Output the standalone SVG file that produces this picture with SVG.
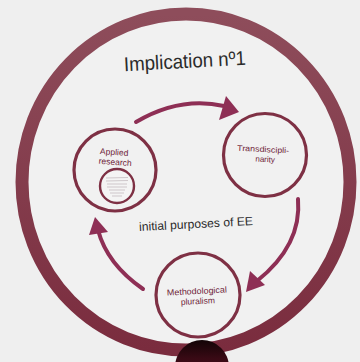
<svg xmlns="http://www.w3.org/2000/svg" width="360" height="362" viewBox="0 0 360 362">
  <defs>
    <linearGradient id="ringGrad" x1="0" y1="0" x2="0" y2="1">
      <stop offset="0" stop-color="#8e4d5b"/>
      <stop offset="1" stop-color="#7a2c3e"/>
    </linearGradient>
    <linearGradient id="blobGrad" x1="0" y1="0" x2="0" y2="1">
      <stop offset="0" stop-color="#120406"/>
      <stop offset="0.35" stop-color="#3a0a15"/>
      <stop offset="1" stop-color="#4a0e1c"/>
    </linearGradient>
    <style>
      .node { fill: none; stroke: #7e3044; stroke-width: 3.2; }
      .label { font-family: "Liberation Sans", "DejaVu Sans", sans-serif; fill: #6e2338; text-anchor: middle; }
      .hand { font-family: "Liberation Sans", "DejaVu Sans", sans-serif; fill: #2b2b2b; }
      .shaft { fill: none; stroke: #8e2f55; stroke-linecap: round; }
      .head { fill: #8e2f55; }
      .tiny { stroke: #a89aa0; stroke-width: 0.5; }
    </style>
  </defs>

  <rect width="360" height="362" fill="#efefef"/>

  <g id="outer-ring">
    <ellipse cx="186" cy="182" rx="164" ry="168" fill="#f1f1f1" stroke="url(#ringGrad)" stroke-width="13"/>
  </g>

  <g id="title">
    <text class="hand" x="185" y="68" font-size="20" text-anchor="middle" textLength="122" lengthAdjust="spacingAndGlyphs" transform="rotate(-3 185 64)">Implication nº1</text>
  </g>

  <g id="center-label">
    <text class="hand" x="196" y="228" font-size="12" text-anchor="middle" textLength="114" lengthAdjust="spacingAndGlyphs" transform="rotate(-3 196 224)">initial purposes of EE</text>
  </g>

  <g id="connectors">
    <path class="shaft" stroke-width="4" d="M136,122 Q180,96 224,106"/>
    <polygon class="head" points="226,96 239,112 219,120"/>
    <path class="shaft" stroke-width="4" d="M298,199 Q302,245 257,281"/>
    <polygon class="head" points="250,271 265,285 246,292"/>
    <path class="shaft" stroke-width="4" d="M143,289 Q107,264 98,230"/>
    <polygon class="head" points="95,217 108,232 89,235"/>
  </g>

  <g id="node-applied">
    <circle class="node" cx="115" cy="170" r="41"/>
    <text class="label" font-size="8.5" x="114" y="155" transform="rotate(4 114 155)">Applied</text>
    <text class="label" font-size="8.5" x="115" y="165" transform="rotate(4 115 165)">research</text>
    <g id="node-applied-inner">
      <circle cx="117" cy="186" r="17" fill="#f4f4f4" stroke="#7e3044" stroke-width="2.4"/>
      <line class="tiny" x1="106" y1="178" x2="128" y2="177.5"/>
      <line class="tiny" x1="106" y1="181" x2="128" y2="180.5"/>
      <line class="tiny" x1="107" y1="184" x2="127" y2="184"/>
      <line class="tiny" x1="107" y1="187" x2="127" y2="187"/>
      <line class="tiny" x1="109" y1="190" x2="125" y2="190"/>
      <line class="tiny" x1="110" y1="193" x2="124" y2="193"/>
      <line class="tiny" x1="112" y1="196" x2="122" y2="196"/>
    </g>
  </g>

  <g id="node-transdisciplinarity">
    <circle class="node" cx="265" cy="155" r="41.5"/>
    <text class="label" font-size="8" x="263" y="152" textLength="52" lengthAdjust="spacingAndGlyphs" transform="rotate(3 263 152)">Transdiscipli-</text>
    <text class="label" font-size="8" x="265" y="162" transform="rotate(3 265 162)">narity</text>
  </g>

  <g id="node-methodological">
    <circle class="node" cx="198" cy="295" r="42"/>
    <text class="label" font-size="8.5" x="197" y="294" textLength="60" lengthAdjust="spacingAndGlyphs" transform="rotate(-3 197 294)">Methodological</text>
    <text class="label" font-size="8.5" x="198" y="304" transform="rotate(-3 198 304)">pluralism</text>
  </g>

  <g id="bottom-blob">
    <circle cx="202" cy="367" r="27" fill="url(#blobGrad)"/>
  </g>
</svg>
